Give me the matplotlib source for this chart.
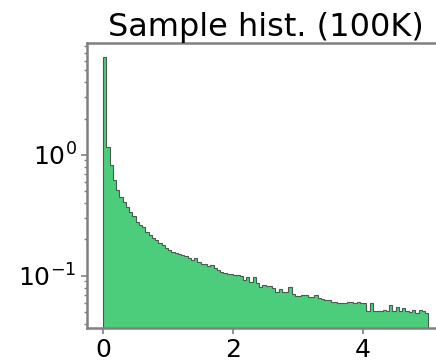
import matplotlib
matplotlib.use("Agg")
import matplotlib.pyplot as plt
import numpy as np

# histogram data (density per bin, 100 bins over [0, 5])
bin_edges = np.linspace(0, 5, 101)
bin_values = [
    6.46, 1.164, 0.827, 0.621, 0.514, 0.450, 0.409, 0.372, 0.338, 0.313,
    0.279, 0.264, 0.254, 0.231, 0.218, 0.206, 0.198, 0.187, 0.180, 0.170,
    0.164, 0.158, 0.155, 0.152, 0.149, 0.146, 0.141, 0.136, 0.141, 0.131,
    0.126, 0.126, 0.121, 0.123, 0.116, 0.112, 0.108, 0.106, 0.104, 0.104,
    0.102, 0.102, 0.100, 0.093, 0.098, 0.089, 0.098, 0.0875, 0.0812, 0.0843,
    0.0827, 0.0827, 0.0796, 0.0738, 0.0781, 0.0738, 0.0738, 0.0812, 0.0710, 0.0684,
    0.0684, 0.0697, 0.0697, 0.0671, 0.0671, 0.0697, 0.0659, 0.0646, 0.0634, 0.0634,
    0.0610, 0.0610, 0.0598, 0.0598, 0.0598, 0.0610, 0.0610, 0.0598, 0.0610, 0.0598,
    0.0598, 0.0514, 0.0598, 0.0514, 0.0514, 0.0514, 0.0524, 0.0514, 0.0576, 0.0514,
    0.0555, 0.0514, 0.0545, 0.0514, 0.0505, 0.0524, 0.0495, 0.0524, 0.0514, 0.0495,
]
title = "Sample hist. (100K)"

fig = plt.figure(figsize=(4.36, 3.61), dpi=100)
ax = fig.add_axes([0.1995, 0.0914, 0.82, 0.789])

centers = (bin_edges[:-1] + bin_edges[1:]) / 2
ax.hist(centers, bins=bin_edges, weights=bin_values, histtype='stepfilled',
        facecolor='#4ccd7c', edgecolor='#4a5a50', linewidth=0.8)

ax.set_yscale('log')
ax.set_xlim(-0.25, 5.25)
ax.set_ylim(0.037, 8.4)
ax.set_xticks([0, 2, 4])

for s in ax.spines.values():
    s.set_color('#808080')
    s.set_linewidth(1.8)
ax.tick_params(axis='both', which='major', labelsize=18, color='#808080', length=4, width=1.2)
ax.tick_params(axis='both', which='minor', color='#808080', length=2.5, width=1)
ax.set_title(title, fontsize=23, pad=5)

fig.savefig("out.png", dpi=100)
